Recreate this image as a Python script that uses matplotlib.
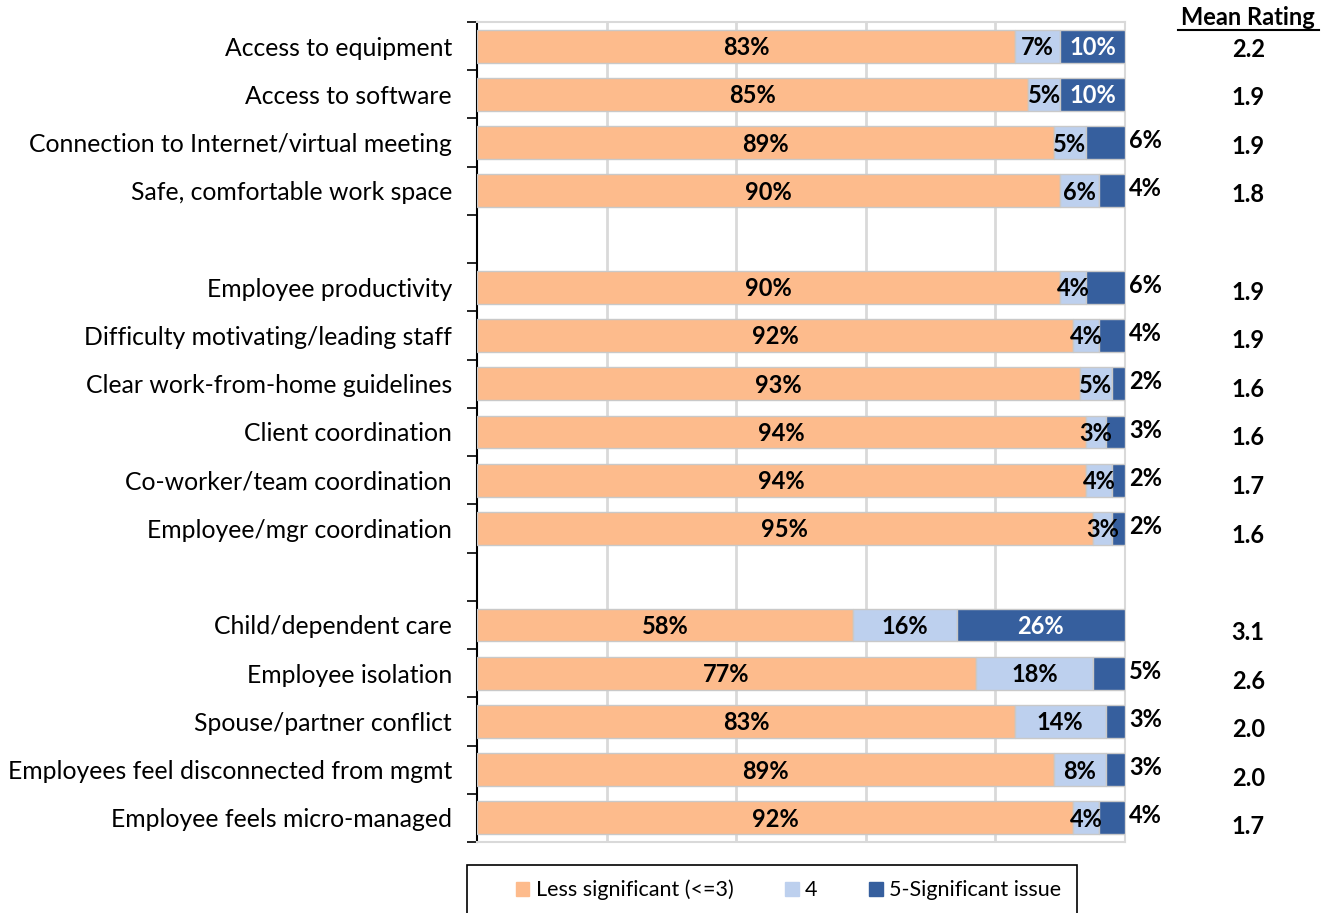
import matplotlib
matplotlib.use("Agg")
import matplotlib.pyplot as plt
from matplotlib.patches import Patch, Rectangle
import numpy as np

plt.rcParams['font.family'] = ['Lato', 'DejaVu Sans']

# None marks an empty spacer row between the three groups
categories = ["Access to equipment", "Access to software", "Connection to Internet/virtual meeting",
              "Safe, comfortable work space", None,
              "Employee productivity", "Difficulty motivating/leading staff", "Clear work-from-home guidelines",
              "Client coordination", "Co-worker/team coordination", "Employee/mgr coordination", None,
              "Child/dependent care", "Employee isolation", "Spouse/partner conflict",
              "Employees feel disconnected from mgmt", "Employee feels micro-managed"]
less_sig = [83, 85, 89, 90, None, 90, 92, 93, 94, 94, 95, None, 58, 77, 83, 89, 92]
four = [7, 5, 5, 6, None, 4, 4, 5, 3, 4, 3, None, 16, 18, 14, 8, 4]
sig_issue = [10, 10, 6, 4, None, 6, 4, 2, 3, 2, 2, None, 26, 5, 3, 3, 4]
mean_rating = ["2.2", "1.9", "1.9", "1.8", None, "1.9", "1.9", "1.6", "1.6", "1.7", "1.6", None,
               "3.1", "2.6", "2.0", "2.0", "1.7"]

c_less = '#FDBB8C'
c_four = '#BDD0EE'
c_sig = '#365F9E'

fig = plt.figure(figsize=(13.33, 9.13), dpi=100)
ax = fig.add_axes([0.3578, 0.0778, 0.8440 - 0.3578, 0.9759 - 0.0778])

rows = [i for i, c in enumerate(categories) if c is not None]
a = np.array([less_sig[i] for i in rows], dtype=float)
b = np.array([four[i] for i in rows], dtype=float)
c = np.array([sig_issue[i] for i in rows], dtype=float)

h = 0.68
ax.barh(rows, a, height=h, color=c_less, edgecolor='#c9c9c9', linewidth=1, zorder=3)
ax.barh(rows, b, left=a, height=h, color=c_four, edgecolor='#c9c9c9', linewidth=1, zorder=3)
ax.barh(rows, c, left=a + b, height=h, color=c_sig, edgecolor='#c9c9c9', linewidth=1, zorder=3)

lab = dict(fontsize=17, fontweight='bold', va='center', zorder=4)
for k, r in enumerate(rows):
    ax.text(a[k] / 2, r + 0.03, f"{int(a[k])}%", ha='center', color='black', **lab)
    ax.text(a[k] + b[k] / 2, r + 0.03, f"{int(b[k])}%", ha='center', color='black', **lab)
    if c[k] >= 10:
        ax.text(a[k] + b[k] + c[k] / 2, r + 0.03, f"{int(c[k])}%", ha='center', color='white', **lab)
    else:
        ax.text(100.6, r - 0.04, f"{int(c[k])}%", ha='left', color='black', **lab)
    # mean rating column drifts slightly below the row centres
    ax.text(1.19, r + 0.06 + 0.008 * r, mean_rating[r], transform=ax.get_yaxis_transform(),
            ha='center', va='center', fontsize=17, fontweight='bold', clip_on=False)

ax.text(1.19, -0.6, "Mean Rating", transform=ax.get_yaxis_transform(), ha='center', va='center',
        fontsize=17, fontweight='bold')
ax.plot([1.081, 1.299], [-0.33, -0.33], transform=ax.get_yaxis_transform(), color='black',
        lw=1.5, clip_on=False)

ax.set_xlim(0, 100)
ax.set_ylim(len(categories) - 0.5, -0.5)
ax.set_yticks(rows)
ax.set_yticklabels([categories[i] for i in rows], fontsize=17.8)
ax.set_yticks(np.arange(-0.5, len(categories)), minor=True)
ax.tick_params(axis='y', which='major', length=0, pad=18)
ax.tick_params(axis='y', which='minor', length=7, width=1.2, direction='out', color='black')
ax.set_xticks([20, 40, 60, 80])
ax.tick_params(axis='x', length=0, labelbottom=False)
ax.grid(axis='x', color='#d9d9d9', linewidth=2, zorder=0)

ax.spines['left'].set_color('black')
ax.spines['left'].set_linewidth(1.5)
for s in ['top', 'right', 'bottom']:
    ax.spines[s].set_color('#d9d9d9')
    ax.spines[s].set_linewidth(1.5)

# legend box (runs off the bottom edge like the original)
fig.patches.append(Rectangle((467 / 1333, -0.02), (1077 - 467) / 1333, 0.02 + 1 - 865 / 913,
                             transform=fig.transFigure, facecolor='white', edgecolor='black',
                             linewidth=1.2))
handles = [Patch(color=c_less, label='Less significant (<=3)'),
           Patch(color=c_four, label='4'),
           Patch(color=c_sig, label='5-Significant issue')]
fig.legend(handles=handles, loc='center left', bbox_to_anchor=(516 / 1333, 1 - 890 / 913),
           ncol=3, frameon=False, fontsize=15.5, handlelength=0.62, handleheight=0.62,
           handletextpad=0.3, borderaxespad=0, borderpad=0, columnspacing=2.4)

fig.savefig('out.png', dpi=100)
